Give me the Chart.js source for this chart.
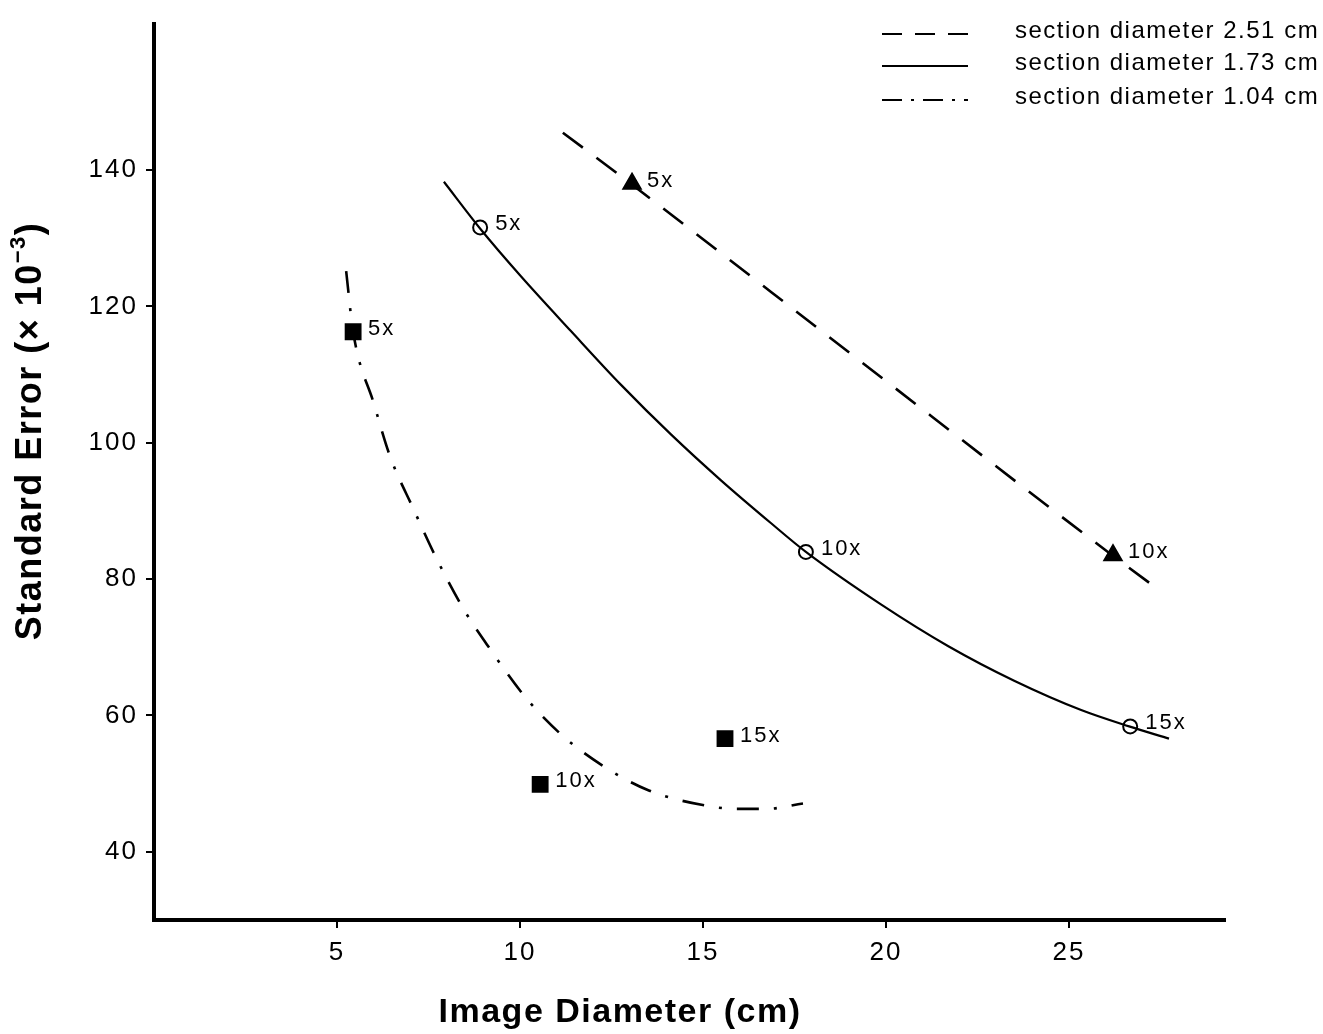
<!DOCTYPE html>
<html>
<head>
<meta charset="utf-8">
<script src="https://cdn.jsdelivr.net/npm/chart.js@4.4.1/dist/chart.umd.min.js"></script>
<style>
  html, body { margin: 0; padding: 0; background: #fff; }
</style>
</head>
<body>
<canvas id="chart" width="1323" height="1034"></canvas>
<script>
// fitted curves: [image diameter (cm), standard error (x 10^-3)]
const curve251 = [[11.17, 145.5], [13.03, 138.0], [19.10, 112.8], [26.23, 83.3], [27.51, 78.2]];
const curve173 = [[7.92, 138.3], [8.93, 131.3], [10.03, 124.4], [11.39, 116.4], [12.76, 108.5],
  [14.13, 101.2], [15.49, 94.5], [16.86, 88.2], [17.81, 84.0], [19.86, 76.3], [21.69, 70.2],
  [23.50, 65.1], [25.33, 60.8], [26.64, 58.4], [27.73, 56.6]];
const curve104 = [[5.25, 125.2], [5.44, 116.3], [6.01, 105.7], [6.45, 98.0], [7.08, 90.4],
  [7.73, 82.9], [8.47, 75.5], [9.02, 71.0], [10.19, 62.4], [11.17, 57.0], [12.27, 52.6],
  [13.52, 49.0], [15.16, 46.7], [15.96, 46.3], [16.72, 46.3], [17.73, 47.1]];

// measured points
const points251 = [[13.06, 138.0], [26.20, 83.5]];
const points173 = [[8.91, 131.6], [17.81, 84.0], [26.67, 58.4]];
const points104 = [[5.44, 116.3], [10.55, 49.9], [15.60, 56.6]];
const labels251 = ['5x', '10x'];
const labels173 = ['5x', '10x', '15x'];
const labels104 = ['5x', '10x', '15x'];

const legendNames = ['section diameter 2.51 cm', 'section diameter 1.73 cm', 'section diameter 1.04 cm'];
const xTicks = [5, 10, 15, 20, 25];
const yTicks = [40, 60, 80, 100, 120, 140];

const toXY = arr => arr.map(p => ({ x: p[0], y: p[1] }));
const FONT = '"Liberation Sans", Arial, Helvetica, sans-serif';

const DASH_251 = [25, 17];
const DASH_104 = [22, 15, 3, 15];
// legend samples are short, so their dashes are a bit tighter
const LEGEND_DASH = [[20, 13], [], [20, 9, 3, 9]];

function curveSet(label, data, dash, width) {
  return {
    label, data: toXY(data), showLine: true, borderColor: '#000', borderWidth: width,
    borderDash: dash, pointRadius: 0, cubicInterpolationMode: 'monotone', fill: false,
  };
}

function pointSet(label, data, style, radius, filled, marks) {
  return {
    label, data: toXY(data), showLine: false, pointStyle: style, pointRadius: radius,
    pointBackgroundColor: filled ? '#000' : '#fff', pointBorderColor: '#000',
    pointBorderWidth: 2, marks,
  };
}

// tick labels in the original are widely spaced
const spacingPlugin = {
  id: 'spacing',
  beforeDraw(chart) { chart.ctx.letterSpacing = '2px'; },
  afterDatasetsDraw(chart) { chart.ctx.letterSpacing = '0px'; },
};

const annotatePlugin = {
  id: 'annotate',
  afterDraw(chart) {
    const ctx = chart.ctx;
    ctx.save();
    ctx.fillStyle = '#000';
    ctx.strokeStyle = '#000';

    // "5x / 10x / 15x" next to the measured points
    ctx.font = '22px ' + FONT;
    ctx.letterSpacing = '2px';
    ctx.textAlign = 'left';
    ctx.textBaseline = 'middle';
    chart.data.datasets.forEach((ds, i) => {
      if (!ds.marks) return;
      chart.getDatasetMeta(i).data.forEach((el, j) => {
        ctx.fillText(ds.marks[j], el.x + 15, el.y - 3);
      });
    });

    // legend, top right
    const rows = [31, 63, 97];
    ctx.font = '24px ' + FONT;
    ctx.letterSpacing = '1.5px';
    for (let i = 0; i < 3; i++) {
      ctx.beginPath();
      ctx.setLineDash(LEGEND_DASH[i]);
      ctx.lineWidth = 2;
      ctx.moveTo(882, rows[i] + 3);
      ctx.lineTo(968, rows[i] + 3);
      ctx.stroke();
      ctx.fillText(legendNames[i], 1015, rows[i]);
    }
    ctx.setLineDash([]);

    // x axis title
    ctx.font = 'bold 34px ' + FONT;
    ctx.letterSpacing = '1.5px';
    ctx.textAlign = 'center';
    ctx.fillText('Image Diameter (cm)', 620, 1013);

    // y axis title with superscript
    ctx.translate(31, 431);
    ctx.rotate(-Math.PI / 2);
    const main = 'Standard Error (\u00d7 10';
    const sup = '\u22123';
    const big = 'bold 36px ' + FONT;
    const small = 'bold 22px ' + FONT;
    ctx.font = big;
    const w1 = ctx.measureText(main).width;
    const w3 = ctx.measureText(')').width;
    ctx.font = small;
    const w2 = ctx.measureText(sup).width;
    let x = -(w1 + w2 + w3) / 2;
    ctx.textAlign = 'left';
    ctx.font = big;
    ctx.fillText(main, x, 0);
    x += w1;
    ctx.font = small;
    ctx.fillText(sup, x, -12);
    x += w2;
    ctx.font = big;
    ctx.fillText(')', x, 0);
    ctx.restore();
  },
};

const tickFont = { family: FONT, size: 26 };

new Chart(document.getElementById('chart'), {
  type: 'scatter',
  data: {
    datasets: [
      curveSet(legendNames[0], curve251, DASH_251, 2.6),
      curveSet(legendNames[1], curve173, [], 2.2),
      curveSet(legendNames[2], curve104, DASH_104, 2.6),
      pointSet('2.51 cm points', points251, 'triangle', 10, true, labels251),
      pointSet('1.73 cm points', points173, 'circle', 7, false, labels173),
      pointSet('1.04 cm points', points104, 'rect', 10.5, true, labels104),
    ],
  },
  options: {
    responsive: false,
    animation: false,
    layout: { padding: { top: 15, right: 98, left: 0, bottom: 0 } },
    plugins: { legend: { display: false }, tooltip: { enabled: false } },
    scales: {
      x: {
        type: 'linear',
        min: 0,
        max: 29.26,
        afterBuildTicks: s => { s.ticks = xTicks.map(v => ({ value: v })); },
        afterFit: s => { s.height = 114; },
        ticks: { font: tickFont, color: '#000', padding: 9, maxRotation: 0, autoSkip: false },
        grid: { drawOnChartArea: false, drawTicks: true, tickLength: 8, color: '#000', lineWidth: 2 },
        border: { display: true, color: '#000', width: 4 },
      },
      y: {
        type: 'linear',
        min: 30,
        max: 161.5,
        afterBuildTicks: s => { s.ticks = yTicks.map(v => ({ value: v })); },
        afterFit: s => { s.width = 154; },
        ticks: { font: tickFont, color: '#000', padding: 8, autoSkip: false },
        grid: { drawOnChartArea: false, drawTicks: true, tickLength: 8, color: '#000', lineWidth: 2 },
        border: { display: true, color: '#000', width: 4 },
      },
    },
  },
  plugins: [spacingPlugin, annotatePlugin],
});
</script>
</body>
</html>
